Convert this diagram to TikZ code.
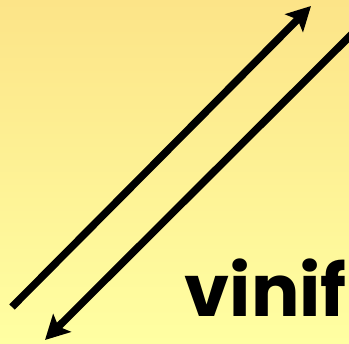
\documentclass[tikz,border=0pt]{standalone}
\usepackage{fontspec}
\newfontfamily\wordfont{Poppins}
\usetikzlibrary{arrows.meta}
\definecolor{cTop}{HTML}{FCE488}
\definecolor{cBottom}{HTML}{FFFFA2}
\tikzset{
  bigarr/.style={-{Stealth[length=24pt,width=25pt,inset=5pt]},line width=7.5pt,color=black},
  word/.style={font=\wordfont\bfseries\fontsize{72}{72}\selectfont,inner sep=0pt,text=black},
}

\begin{document}
\begin{tikzpicture}[x=1pt,y=-1pt]
    \shade[top color=cTop,bottom color=cBottom] (0,0) rectangle (349,344);
    \useasboundingbox (0,0) rectangle (349,344);
    \coordinate (upA) at (12,307);
    \coordinate (upB) at (311,6);
    \coordinate (downA) at (352,34);
    \coordinate (downB) at (45,340);
    \draw[bigarr] (upA) -- (upB);
    \draw[bigarr] (downA) -- (downB);
    \node[word,anchor=base east] (vinif) at (347,317) {vinif};
  \end{tikzpicture}
\end{document}
